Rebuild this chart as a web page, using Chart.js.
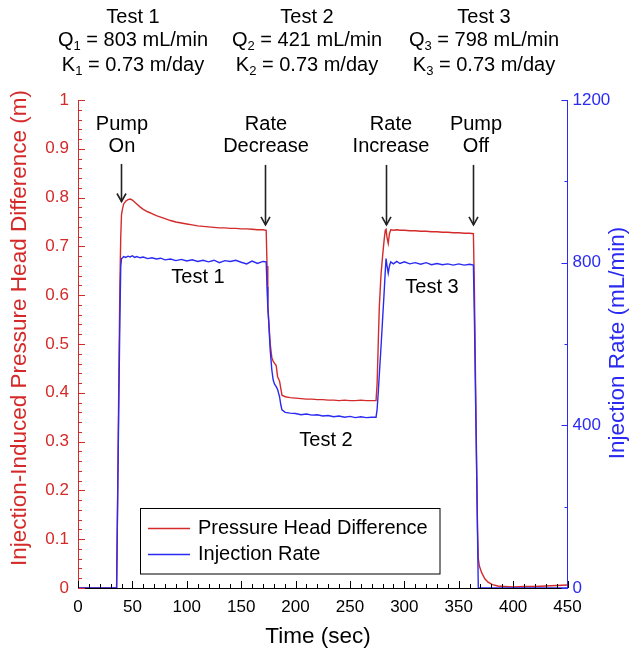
<!DOCTYPE html>
<html>
<head>
<meta charset="utf-8">
<script src="https://cdn.jsdelivr.net/npm/chart.js@4.4.0/dist/chart.umd.min.js"></script>
<style>
  html, body { margin: 0; padding: 0; background: #fff; }
</style>
</head>
<body>
<canvas id="chart" width="629" height="654"></canvas>
<script>
// time in seconds, head difference in m, injection rate in mL/min
const timeSec = [0, 10, 20, 30, 35.5, 36.5, 37.5, 38.5, 39.3, 40, 41, 42, 44, 46, 48, 50, 52, 54, 57, 60,
  64, 68, 72, 76, 80, 85, 90, 95, 100, 105, 110, 115, 120, 125, 130, 135, 140, 145, 150, 155,
  160, 165, 170, 173, 173.8, 174.5, 175.2, 176.7, 178.2, 179.4, 180.6, 182.2, 183.5, 185.3, 186.5, 187.5, 190.5, 195, 200, 205,
  210, 215, 220, 225, 230, 235, 240, 245, 250, 255, 260, 265, 270, 274, 275, 276, 277, 278.5, 280, 281.5,
  282.5, 283.2, 284.1, 285.2, 286.3, 287.5, 290, 293, 296, 300, 305, 310, 315, 320, 325, 330, 335, 340, 345, 350,
  355, 360, 363.5, 364.5, 365.5, 366.5, 367.3, 368, 369, 371, 374, 377, 381, 386, 392, 400, 410, 420, 430, 440, 450];

const headDiff = [0, 0, 0, 0, 0, 0.2, 0.42, 0.62, 0.72, 0.765, 0.778, 0.787, 0.793, 0.796, 0.797, 0.795, 0.791, 0.787, 0.781, 0.776,
  0.771, 0.767, 0.763, 0.760, 0.757, 0.753, 0.750, 0.748, 0.746, 0.744, 0.742, 0.741, 0.740, 0.739, 0.738, 0.738, 0.737, 0.737, 0.736, 0.736,
  0.735, 0.734, 0.734, 0.733, 0.66, 0.58, 0.553, 0.50, 0.472, 0.465, 0.461, 0.456, 0.433, 0.424, 0.408, 0.395, 0.392, 0.390, 0.389, 0.388,
  0.387, 0.387, 0.386, 0.386, 0.385, 0.385, 0.384, 0.385, 0.384, 0.384, 0.385, 0.384, 0.384, 0.384, 0.42, 0.50, 0.576, 0.64, 0.68, 0.715,
  0.733, 0.735, 0.718, 0.706, 0.726, 0.734, 0.733, 0.734, 0.733, 0.733, 0.732, 0.732, 0.731, 0.731, 0.730, 0.730, 0.729, 0.729, 0.728, 0.728,
  0.727, 0.727, 0.726, 0.60, 0.42, 0.25, 0.12, 0.06, 0.045, 0.032, 0.019, 0.012, 0.007, 0.004, 0.003, 0.002, 0.003, 0.003, 0.004, 0.005, 0.006];

const injRate = [0, 0, 0, 0, 0, 230, 450, 660, 790, 810, 812, 815, 813, 816, 814, 817, 813, 815, 812, 814,
  810, 812, 809, 811, 807, 809, 805, 808, 804, 807, 803, 806, 802, 806, 800, 805, 803, 806, 801, 797,
  804, 798, 803, 802, 740, 690, 660, 585, 536, 512, 502, 495, 488, 470, 450, 438, 432, 430, 429, 426,
  428, 425, 426, 423, 424, 421, 423, 420, 422, 419, 421, 419, 420, 420, 440, 480, 525, 590, 660, 730,
  780, 810, 792, 774, 792, 802, 797, 803, 798, 802, 797, 800, 796, 800, 795, 798, 795, 797, 794, 797,
  794, 796, 794, 650, 460, 280, 130, 0, 0, 0, 0, 0, 0, 0, 0, 0, 0, 0, 0, 0, 0];

const testNames = ["Test 1", "Test 2", "Test 3"];
const flowRates = ["803", "421", "798"];
const conductivity = ["0.73", "0.73", "0.73"];
const headerX = [133, 307, 484];

// event arrows: time, tail and tip in m, two text lines
const events = [
  { t: 39.5, tail: 0.869, tip: 0.792, tx: 40.4, lines: ["Pump", "On"] },
  { t: 172, tail: 0.867, tip: 0.744, tx: 172.8, lines: ["Rate", "Decrease"] },
  { t: 283.1, tail: 0.867, tip: 0.744, tx: 287.7, lines: ["Rate", "Increase"] },
  { t: 363.4, tail: 0.867, tip: 0.744, tx: 365.9, lines: ["Pump", "Off"] }
];
const testLabels = [
  { t: 110.3, y: 0.637, text: "Test 1" },
  { t: 228, y: 0.303, text: "Test 2" },
  { t: 325.4, y: 0.615, text: "Test 3" }
];

const RED = "#d42a2a";
const BLUE = "#2a2af2";
const FAMILY = '"Liberation Sans", Arial, sans-serif';

const decor = {
  id: "decor",
  afterDraw(chart) {
    const ctx = chart.ctx;
    const a = chart.chartArea;
    const xs = chart.scales.x, yl = chart.scales.y, yr = chart.scales.y2;
    ctx.save();

    // inward tick marks
    ctx.lineWidth = 1;
    ctx.strokeStyle = RED;
    for (let i = 0; i <= 50; i++) {
      const y = Math.round(yl.getPixelForValue(i / 50)) + 0.5;
      const len = i % 5 === 0 ? 7 : 4;
      ctx.beginPath(); ctx.moveTo(a.left, y); ctx.lineTo(a.left + len, y); ctx.stroke();
    }
    ctx.strokeStyle = "#000";
    for (let i = 0; i <= 45; i++) {
      const x = Math.round(xs.getPixelForValue(i * 10)) + 0.5;
      const len = i % 5 === 0 ? 7 : 4;
      ctx.beginPath(); ctx.moveTo(x, a.bottom); ctx.lineTo(x, a.bottom - len); ctx.stroke();
    }
    ctx.strokeStyle = BLUE;
    for (let i = 0; i <= 6; i++) {
      const y = Math.round(yr.getPixelForValue(i * 200)) + 0.5;
      const len = i % 2 === 0 ? 6 : 3;
      ctx.beginPath(); ctx.moveTo(a.right, y); ctx.lineTo(a.right - len, y); ctx.stroke();
    }

    // axis titles
    ctx.textAlign = "center";
    ctx.textBaseline = "middle";
    ctx.font = "22.5px " + FAMILY;
    ctx.fillStyle = "#000";
    ctx.fillText("Time (sec)", 318, 637);
    ctx.save();
    ctx.translate(20, 328);
    ctx.rotate(-Math.PI / 2);
    ctx.fillStyle = RED;
    ctx.fillText("Injection-Induced Pressure Head Difference (m)", 0, 0);
    ctx.restore();
    ctx.save();
    ctx.translate(618, 343);
    ctx.rotate(-Math.PI / 2);
    ctx.fillStyle = BLUE;
    ctx.fillText("Injection Rate (mL/min)", 0, 0);
    ctx.restore();

    // header with subscripts
    const big = "20px " + FAMILY, small = "13px " + FAMILY;
    function subLine(cx, cy, letter, sub, rest) {
      ctx.font = big; const w1 = ctx.measureText(letter).width;
      const w3 = ctx.measureText(rest).width;
      ctx.font = small; const w2 = ctx.measureText(sub).width;
      let x = cx - (w1 + w2 + w3) / 2;
      ctx.textAlign = "left";
      ctx.font = big; ctx.fillText(letter, x, cy); x += w1;
      ctx.font = small; ctx.fillText(sub, x, cy + 6); x += w2;
      ctx.font = big; ctx.fillText(rest, x, cy);
    }
    ctx.fillStyle = "#000";
    testNames.forEach((name, i) => {
      ctx.font = big; ctx.textAlign = "center";
      ctx.fillText(name, headerX[i], 17);
      subLine(headerX[i], 40, "Q", String(i + 1), " = " + flowRates[i] + " mL/min");
      subLine(headerX[i], 65, "K", String(i + 1), " = " + conductivity[i] + " m/day");
    });

    // event arrows and labels
    ctx.font = big; ctx.textAlign = "center";
    ctx.strokeStyle = "#222"; ctx.lineWidth = 1.6;
    events.forEach(ev => {
      const x = Math.round(xs.getPixelForValue(ev.t)) + 0.5;
      const y0 = yl.getPixelForValue(ev.tail), y1 = yl.getPixelForValue(ev.tip);
      ctx.beginPath(); ctx.moveTo(x, y0); ctx.lineTo(x, y1); ctx.stroke();
      ctx.beginPath(); ctx.moveTo(x - 4.5, y1 - 8); ctx.lineTo(x, y1); ctx.lineTo(x + 4.5, y1 - 8); ctx.stroke();
      const tx = xs.getPixelForValue(ev.tx);
      ctx.fillText(ev.lines[0], tx, yl.getPixelForValue(0.949));
      ctx.fillText(ev.lines[1], tx, yl.getPixelForValue(0.904));
    });
    testLabels.forEach(l => {
      ctx.fillText(l.text, xs.getPixelForValue(l.t), yl.getPixelForValue(l.y));
    });

    // legend box
    ctx.lineWidth = 1; ctx.strokeStyle = "#000";
    ctx.strokeRect(140.5, 508.5, 299.5, 65.5);
    ctx.textAlign = "left";
    chart.data.datasets.forEach((ds, i) => {
      const y = 528 + i * 26;
      ctx.strokeStyle = ds.borderColor; ctx.lineWidth = 1.5;
      ctx.beginPath(); ctx.moveTo(148, y + 0.5); ctx.lineTo(190, y + 0.5); ctx.stroke();
      ctx.fillStyle = "#000";
      ctx.fillText(ds.label, 198, y);
    });
    ctx.restore();
  }
};

new Chart(document.getElementById("chart").getContext("2d"), {
  type: "line",
  data: {
    datasets: [
      {
        label: "Pressure Head Difference",
        data: timeSec.map((t, i) => ({ x: t, y: headDiff[i] })),
        yAxisID: "y",
        borderColor: RED,
        borderWidth: 1.4,
        order: 1
      },
      {
        label: "Injection Rate",
        data: timeSec.map((t, i) => ({ x: t, y: injRate[i] })),
        yAxisID: "y2",
        borderColor: BLUE,
        borderWidth: 1.4,
        order: 0
      }
    ]
  },
  options: {
    responsive: false,
    animation: false,
    devicePixelRatio: 1,
    layout: { padding: { top: 100, left: 0, right: 0, bottom: 0 } },
    elements: { point: { radius: 0 }, line: { tension: 0 } },
    plugins: { legend: { display: false }, tooltip: { enabled: false } },
    scales: {
      x: {
        type: "linear", min: 0, max: 450, position: "bottom",
        afterFit: s => { s.height = 66; },
        grid: { display: true, drawOnChartArea: false, drawTicks: false },
        border: { color: "#000", width: 1 },
        ticks: { stepSize: 50, color: "#000", padding: 9, maxRotation: 0, autoSkip: false,
          font: { family: FAMILY, size: 17 } }
      },
      y: {
        position: "left", min: 0, max: 1,
        afterFit: s => { s.width = 78; },
        grid: { display: true, drawOnChartArea: false, drawTicks: false },
        border: { color: RED, width: 1 },
        ticks: { stepSize: 0.1, color: RED, padding: 9, font: { family: FAMILY, size: 17 },
          callback: v => String(Math.round(v * 10) / 10) }
      },
      y2: {
        position: "right", min: 0, max: 1200,
        afterFit: s => { s.width = 61.5; },
        grid: { display: true, drawOnChartArea: false, drawTicks: false },
        border: { color: BLUE, width: 1 },
        ticks: { stepSize: 400, color: BLUE, padding: 5, font: { family: FAMILY, size: 17 },
          callback: v => String(Math.round(v)) }
      }
    }
  },
  plugins: [decor]
});
</script>
</body>
</html>
